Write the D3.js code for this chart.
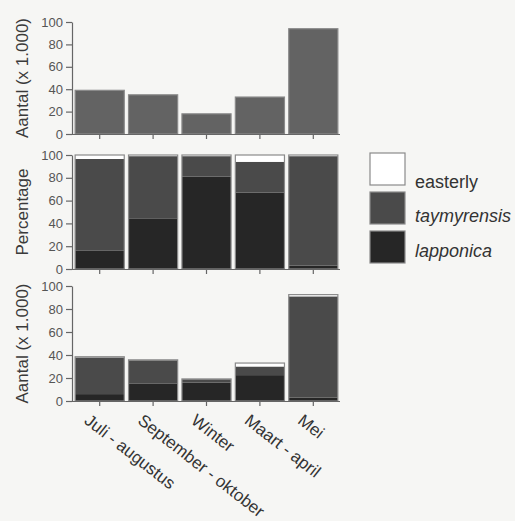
<!DOCTYPE html>
<html>
<head>
<meta charset="utf-8">
<script src="https://cdn.jsdelivr.net/npm/d3@7"></script>
<style>
  body { margin: 0; background: #f6f6f4; }
  svg { font-family: "Liberation Sans", Arial, sans-serif; }
</style>
</head>
<body>
<div id="chart"></div>
<script>
// Periods on the x axis
const periods = ["Juli - augustus", "September - oktober", "Winter", "Maart - april", "Mei"];

// Top panel: total numbers (x 1.000)
const totals = [39, 35, 18, 33, 94];

// Middle panel: percentages per subspecies
const pctLapponica = [16, 44, 81, 67, 3];
const pctTaymyrensis = [80.5, 55, 18, 27, 96];
const pctEasterly = [3.5, 1, 1, 6, 1];

// Bottom panel: numbers per subspecies (x 1.000)
const nLapponica = [6, 15, 16, 22.5, 3];
const nTaymyrensis = [32, 20.5, 3, 7.5, 88];
const nEasterly = [0.5, 0.3, 0.2, 3, 1.5];

const yTicks = [0, 20, 40, 60, 80, 100];
const legendLabels = ["easterly", "taymyrensis", "lapponica"];

const colors = { lapponica: "#262626", taymyrensis: "#4a4a4a", easterly: "#ffffff", total: "#636363" };

const width = 515, height = 521;

const svg = d3.select("#chart")
    .append("svg")
    .attr("width", width)
    .attr("height", height);

// shared x scale
const x = d3.scaleBand()
    .domain(periods)
    .range([73, 340])
    .paddingInner(0.08)
    .paddingOuter(0.04);

// panel vertical extents (pixel of 0 and 100)
const panels = [
    { y0: 134, y1: 22, label: "Aantal (x 1.000)" },
    { y0: 269, y1: 155, label: "Percentage" },
    { y0: 401, y1: 286, label: "Aantal (x 1.000)" }
];

// build stacked rows for each panel
const stackRows = (lap, tay, eas) => periods.map((p, i) => ({
    period: p, lapponica: lap[i], taymyrensis: tay[i], easterly: eas[i]
}));
const stack = d3.stack().keys(["lapponica", "taymyrensis", "easterly"]);

panels.forEach((panel, pi) => {
    const y = d3.scaleLinear().domain([0, 100]).range([panel.y0, panel.y1]);
    const g = svg.append("g");

    if (pi === 0) {
        g.selectAll("rect.bar")
            .data(totals)
            .enter()
            .append("rect")
            .attr("class", "bar")
            .attr("x", (d, i) => x(periods[i]))
            .attr("width", x.bandwidth())
            .attr("y", d => y(d))
            .attr("height", d => y(0) - y(d))
            .attr("fill", colors.total)
            .attr("stroke", "#8a8a8a")
            .attr("stroke-width", 1.2);
    } else {
        const rows = pi === 1
            ? stackRows(pctLapponica, pctTaymyrensis, pctEasterly)
            : stackRows(nLapponica, nTaymyrensis, nEasterly);
        const series = stack(rows);
        g.selectAll("g.layer")
            .data(series)
            .enter()
            .append("g")
            .attr("class", "layer")
            .attr("fill", d => colors[d.key])
            .selectAll("rect")
            .data(d => d)
            .enter()
            .append("rect")
            .attr("x", d => x(d.data.period))
            .attr("width", x.bandwidth())
            .attr("y", d => y(d[1]))
            .attr("height", d => y(d[0]) - y(d[1]));
        // outline round each whole bar
        g.selectAll("rect.outline")
            .data(series[series.length - 1])
            .enter()
            .append("rect")
            .attr("class", "outline")
            .attr("x", d => x(d.data.period))
            .attr("width", x.bandwidth())
            .attr("y", d => y(d[1]))
            .attr("height", d => y(0) - y(d[1]))
            .attr("fill", "none")
            .attr("stroke", "#8a8a8a")
            .attr("stroke-width", 1.2);
    }

    // y axis
    const yAxis = g.append("g")
        .attr("transform", "translate(72,0)")
        .call(d3.axisLeft(y).tickValues(yTicks).tickSize(6).tickSizeOuter(0).tickPadding(3));
    yAxis.select(".domain").attr("stroke", "#666").attr("stroke-width", 1.2);
    yAxis.selectAll(".tick line").attr("stroke", "#666").attr("stroke-width", 1.2);
    yAxis.selectAll(".tick text")
        .attr("fill", "#555")
        .style("font-size", "13px");

    // x axis
    const xAxis = g.append("g")
        .attr("transform", "translate(0," + panel.y0 + ")")
        .call(d3.axisBottom(x).tickSize(5).tickSizeOuter(0).tickFormat(""));
    xAxis.select(".domain").attr("stroke", "#666").attr("stroke-width", 1.2)
        .attr("d", "M72,0.5H340");
    xAxis.selectAll(".tick line").attr("stroke", "#666").attr("stroke-width", 1.2);

    // y title
    svg.append("text")
        .attr("transform", "translate(28," + ((panel.y0 + panel.y1) / 2) + ") rotate(-90)")
        .attr("text-anchor", "middle")
        .attr("fill", "#3a3a3a")
        .style("font-size", "17px")
        .text(panel.label);
});

// rotated category labels under the bottom panel
svg.selectAll("text.xlab")
    .data(periods)
    .enter()
    .append("text")
    .attr("class", "xlab")
    .attr("transform", d => "translate(" + (x(d) + x.bandwidth() / 2 - 9) + ",413) rotate(38)")
    .attr("dy", "0.71em")
    .attr("fill", "#333")
    .style("font-size", "17px")
    .text(d => d);

// legend
const legendTextY = [188, 222, 257];
const legend = svg.selectAll("g.legend")
    .data(legendLabels)
    .enter()
    .append("g")
    .attr("class", "legend");

legend.append("rect")
    .attr("x", 370)
    .attr("y", (d, i) => 153 + i * 39)
    .attr("width", 35)
    .attr("height", 32)
    .attr("fill", d => colors[d])
    .attr("stroke", "#8a8a8a")
    .attr("stroke-width", 1.2);

legend.append("text")
    .attr("x", 415)
    .attr("y", (d, i) => legendTextY[i])
    .attr("fill", "#333")
    .style("font-size", "18px")
    .style("font-style", d => d === "easterly" ? "normal" : "italic")
    .text(d => d);
</script>
</body>
</html>
